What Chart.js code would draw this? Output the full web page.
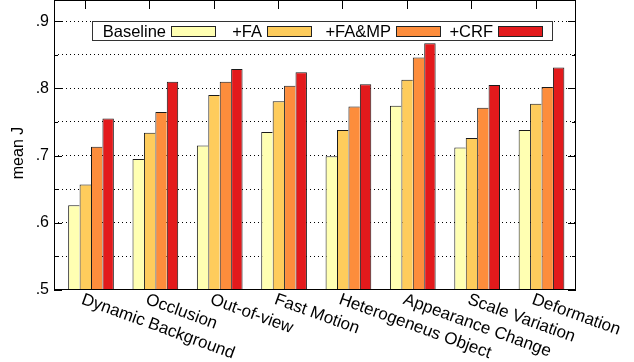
<!DOCTYPE html>
<html><head><meta charset="utf-8">
<script src="https://cdn.jsdelivr.net/npm/chart.js@4"></script>
<style>html,body{margin:0;padding:0;background:#fff;} canvas{display:block;}</style>
</head><body>
<canvas id="c" width="634" height="362"></canvas>
<script>
const categories = ['Dynamic Background','Occlusion','Out-of-view','Fast Motion','Heterogeneus Object','Appearance Change','Scale Variation','Deformation'];
const seriesNames = ['Baseline','+FA','+FA&MP','+CRF'];
const baseline = [0.626,0.695,0.715,0.735,0.699,0.774,0.712,0.738];
const fa       = [0.657,0.734,0.790,0.781,0.738,0.813,0.726,0.777];
const faMp     = [0.713,0.765,0.810,0.804,0.773,0.846,0.771,0.802];
const crf      = [0.755,0.810,0.829,0.824,0.806,0.867,0.805,0.831];
const yTickValues = [0.5,0.6,0.7,0.8,0.9];
const yTickLabels = ['.5','.6','.7','.8','.9'];
const yAxisTitle = 'mean J';

const colors = ['#FFFFB2','#FECC5C','#FD8D3C','#E31A1C'];
const FONT = "'Liberation Sans', Arial, Helvetica, sans-serif";
const series = [baseline, fa, faMp, crf];

function labelFor(v){
  for (let i=0;i<yTickValues.length;i++) if (Math.abs(yTickValues[i]-v)<1e-6) return yTickLabels[i];
  return '';
}
function isGrid(v){
  if (v < 0.5+1e-6 || v > 0.92) return false;
  const k = Math.round(v/0.05);
  return Math.abs(k*0.05 - v) < 1e-6;
}

const TICK_SHIFT = -0.093; // gnuplot xtic position relative to group centre

const decor = {
  id:'decor',
  afterDatasetsDraw(chart){
    const ctx = chart.ctx, a = chart.chartArea;
    const xs = chart.scales.x, ys = chart.scales.y;
    ctx.save();
    ctx.strokeStyle = '#000'; ctx.lineWidth = 1;
    ys.ticks.forEach(t=>{
      if (!isGrid(t.value) && labelFor(t.value)==='') return;
      const len = labelFor(t.value)!=='' ? 8 : 4;
      const y = Math.round(ys.getPixelForValue(t.value))+0.5;
      ctx.beginPath();
      ctx.moveTo(a.left, y); ctx.lineTo(a.left+len, y);
      ctx.moveTo(a.right, y); ctx.lineTo(a.right-len, y);
      ctx.stroke();
    });
    categories.forEach((c,i)=>{
      const x = Math.round(xs.getPixelForValue(i+TICK_SHIFT))+0.5;
      ctx.beginPath(); ctx.moveTo(x, a.top); ctx.lineTo(x, a.top+8); ctx.stroke();
    });
    ctx.strokeRect(Math.round(a.left)+0.5, Math.round(a.top)-0.5, Math.round(a.right-a.left)-1, Math.round(a.bottom-a.top));
    ctx.restore();
  },
  afterDraw(chart){
    const ctx = chart.ctx, a = chart.chartArea;
    const xs = chart.scales.x;
    ctx.save();
    ctx.fillStyle = '#000';
    ctx.font = '17px ' + FONT;
    categories.forEach((c,i)=>{
      const x = xs.getPixelForValue(i+TICK_SHIFT);
      ctx.save();
      ctx.translate(x, a.bottom+1);
      ctx.rotate(20*Math.PI/180);
      ctx.textAlign='left'; ctx.textBaseline='top';
      ctx.fillText(c, 0, 0);
      ctx.restore();
    });
    ctx.font = '16px ' + FONT;
    ctx.save();
    ctx.translate(19, 153);
    ctx.rotate(-Math.PI/2);
    ctx.textAlign='center'; ctx.textBaseline='middle';
    ctx.fillText(yAxisTitle, 0, 0);
    ctx.restore();
    const box = {x:92.5, y:21.5, w:460, h:19};
    ctx.fillStyle='#fff';
    ctx.fillRect(box.x, box.y, box.w, box.h);
    ctx.strokeStyle='#333'; ctx.lineWidth=1;
    ctx.strokeRect(box.x, box.y, box.w, box.h);
    const swatchX = [171, 267, 396, 498];
    ctx.font = '16.5px ' + FONT;
    seriesNames.forEach((n,i)=>{
      const sx = swatchX[i];
      ctx.fillStyle = colors[i];
      ctx.fillRect(sx+0.5, 26.5, 44, 10);
      ctx.strokeStyle = '#222';
      ctx.strokeRect(sx+0.5, 26.5, 44, 10);
      ctx.fillStyle = '#000';
      ctx.textAlign='right'; ctx.textBaseline='alphabetic';
      ctx.fillText(n, sx-5, 36.5);
    });
    ctx.restore();
  }
};

new Chart(document.getElementById('c'), {
  type:'bar',
  data:{
    datasets: series.map((s,k)=>({
      label: seriesNames[k],
      data: s.map((v,i)=>({x:i, y:v})),
      backgroundColor: colors[k],
      borderColor: '#1a1a1a',
      borderWidth: {top:1, left:1, right: k===series.length-1 ? 1 : 0, bottom:0},
      borderSkipped: false,
      categoryPercentage: 0.71,
      barPercentage: 1.0
    }))
  },
  options:{
    responsive:false, animation:false, devicePixelRatio:1,
    layout:{padding:{left:0, top:1, right:58, bottom:72}},
    plugins:{legend:{display:false}, tooltip:{enabled:false}},
    font:{family:FONT, size:16},
    scales:{
      x:{type:'linear', display:false, min:-0.575, max:7.536, offset:false},
      y:{
        min:0.5, max:0.93,
        ticks:{stepSize:0.05, padding:5, color:'#000', font:{family:FONT, size:16}, callback:(v)=>labelFor(v), autoSkip:false},
        grid:{drawTicks:false, lineWidth:1, color:(c)=> (c.tick && isGrid(c.tick.value)) ? '#000' : 'rgba(0,0,0,0)'},
        border:{display:false, dash:[1,3]},
        afterFit(s){ s.width = 54; s.paddingTop = 0; s.paddingBottom = 0; }
      }
    }
  },
  plugins:[decor]
});
</script>
</body></html>
